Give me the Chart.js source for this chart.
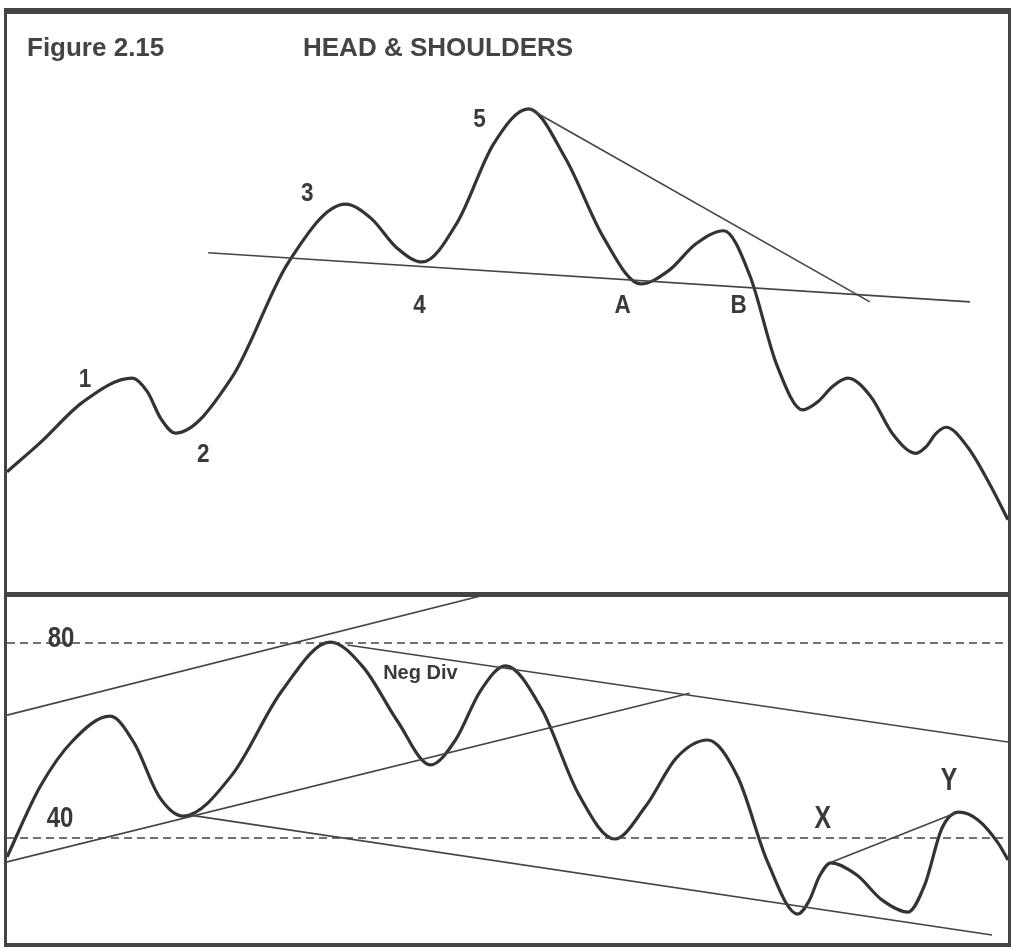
<!DOCTYPE html>
<html lang="en">
<head>
  <meta charset="UTF-8">
  <title>Figure 2.15 Head &amp; Shoulders</title>
  <script src="https://cdn.jsdelivr.net/npm/chart.js"></script>
  <style>
    body { margin: 0; background: #fff; width: 1011px; height: 947px; position: relative; overflow: hidden; }
    #frame { position: absolute; left: 4px; top: 8px; width: 1001px; height: 929px;
             border-left: 3px solid #444; border-right: 3px solid #444;
             border-top: 6px solid #444; border-bottom: 4px solid #444; }
    #divider { position: absolute; left: 4px; top: 592px; width: 1007px; height: 5px; background: #444; }
    .title { position: absolute; top: 34px; font: bold 26px "Liberation Sans", Arial, sans-serif;
             line-height: 26px; color: #444; white-space: nowrap; }
    canvas { position: absolute; left: 7px; }
    #priceChart { top: 14px; }
    #oscChart { top: 597px; }
  </style>
</head>
<body>
  <div id="frame"></div>
  <canvas id="priceChart" width="1001" height="578"></canvas>
  <canvas id="oscChart" width="1001" height="346"></canvas>
  <div id="divider"></div>
  <div class="title" style="left:27px">Figure 2.15</div>
  <div class="title" style="left:303px">HEAD &amp; SHOULDERS</div>

  <script>
    // price panel (x = time 0..100, y = price 0..100)
    const priceX = [0, 3.3, 7.6, 12.5, 14.0, 15.4, 16.8, 22.5, 28.1, 33.8, 36.4, 38.9, 41.5,
      45.0, 48.6, 52.1, 55.8, 59.6, 63.3, 66.1, 68.8, 71.6, 74.2, 76.9, 79.5, 81.0, 82.5,
      84.0, 86.3, 88.5, 90.8, 91.8, 92.8, 93.8, 96.0, 98.1, 100];
    const priceY = [20.8, 25.8, 32.9, 37.0, 34.7, 29.9, 27.5, 37.2, 57.0, 67.1, 64.6, 59.6, 57.1,
      64.0, 77.5, 83.6, 75.0, 61.3, 53.3, 55.6, 60.2, 62.5, 54.8, 39.3, 31.5, 32.9, 35.6,
      37.0, 33.8, 27.3, 24.0, 25.1, 27.4, 28.5, 25.0, 18.9, 12.5];

    const necklineX = [20.1, 96.2];
    const necklineY = [58.7, 50.2];
    const headTrendX = [52.1, 86.2];
    const headTrendY = [83.7, 50.2];

    const priceLabels = ['1', '2', '3', '4', '5', 'A', 'B'];
    const priceLabelX = [7.8, 19.6, 30.0, 41.2, 47.2, 61.5, 73.1];
    const priceLabelY = [37.0, 24.0, 69.2, 49.8, 82.0, 49.8, 49.8];

    // oscillator panel
    const oscX = [0, 3.3, 6.5, 10.3, 12.7, 15.2, 17.6, 22.5, 27.4, 32.3, 35.6, 39.0, 42.3,
      44.8, 47.3, 49.8, 53.4, 57.1, 60.7, 63.8, 66.9, 70.0, 73.0, 76.0, 79.0, 80.1, 81.2,
      82.3, 84.9, 87.4, 90.0, 91.7, 93.4, 95.1, 97.0, 99.0, 100];
    const oscY = [36.1, 50.5, 59.8, 65.0, 59.5, 48.5, 44.5, 53.0, 70.0, 80.2, 75.0, 64.0, 55.0,
      60.1, 70.2, 75.3, 66.5, 49.0, 39.8, 46.5, 56.5, 60.1, 52.5, 35.0, 24.4, 27.0, 32.3,
      34.9, 32.4, 27.3, 24.8, 30.5, 42.0, 45.3, 43.7, 39.0, 35.5];

    const levels = [80, 40];
    const upperRiseX = [0, 47.6];
    const upperRiseY = [65.2, 89.8];
    const lowerRiseX = [0, 68.2];
    const lowerRiseY = [35.1, 69.7];
    const negDivX = [34.0, 100];
    const negDivY = [79.6, 59.7];
    const lowerFallX = [18.3, 98.4];
    const lowerFallY = [44.7, 20.1];
    const xyLineX = [82.4, 94.7];
    const xyLineY = [35.1, 45.1];

    const oscLabels = ['80', '40', 'Neg Div', 'X', 'Y'];
    const oscLabelX = [5.4, 5.3, 41.3, 81.5, 94.1];
    const oscLabelY = [81.3, 44.5, 74.1, 44.3, 52.1];

    const pts = (xs, ys) => xs.map((x, i) => ({ x: x, y: ys[i] }));

    const curve = (xs, ys) => ({
      data: pts(xs, ys), borderColor: '#333', borderWidth: 3.2, pointRadius: 0,
      cubicInterpolationMode: 'monotone', fill: false
    });
    const straight = (xs, ys, dash) => ({
      data: pts(xs, ys), borderColor: '#444', borderWidth: 1.6, pointRadius: 0,
      tension: 0, fill: false, borderDash: dash || []
    });

    // draws text labels at data coordinates
    const labelPlugin = {
      id: 'labels',
      afterDatasetsDraw(chart, args, opts) {
        const ctx = chart.ctx;
        ctx.save();
        ctx.fillStyle = '#3a3a3a';
        ctx.textAlign = 'center';
        ctx.textBaseline = 'alphabetic';
        opts.items.forEach(it => {
          const px = chart.scales.x.getPixelForValue(it.x);
          const py = chart.scales.y.getPixelForValue(it.y);
          ctx.save();
          ctx.translate(px, py + it.size * 0.358);
          ctx.scale(it.sx, 1);
          ctx.font = 'bold ' + it.size + 'px "Liberation Sans", Arial, sans-serif';
          ctx.fillText(it.text, 0, 0);
          ctx.restore();
        });
        ctx.restore();
      }
    };

    const baseOptions = (ymin, ymax, items) => ({
      responsive: false,
      animation: false,
      events: [],
      layout: { padding: 0 },
      scales: {
        x: { type: 'linear', min: 0, max: 100, display: false },
        y: { type: 'linear', min: ymin, max: ymax, display: false }
      },
      plugins: { legend: { display: false }, tooltip: { enabled: false }, labels: { items: items } }
    });

    const priceItems = priceLabels.map((t, i) => ({
      text: t, x: priceLabelX[i], y: priceLabelY[i], size: 25, sx: 0.9
    }));

    new Chart(document.getElementById('priceChart'), {
      type: 'line',
      data: {
        datasets: [
          straight(necklineX, necklineY),
          straight(headTrendX, headTrendY),
          curve(priceX, priceY)
        ]
      },
      options: baseOptions(0, 100, priceItems),
      plugins: [labelPlugin]
    });

    const oscSizes = [30, 30, 20, 31, 31];
    const oscScale = [0.8, 0.8, 1, 0.8, 0.8];
    const oscItems = oscLabels.map((t, i) => ({
      text: t, x: oscLabelX[i], y: oscLabelY[i], size: oscSizes[i], sx: oscScale[i]
    }));

    new Chart(document.getElementById('oscChart'), {
      type: 'line',
      data: {
        datasets: [
          ...levels.map(v => straight([0, 100], [v, v], [8, 5])),
          straight(upperRiseX, upperRiseY),
          straight(lowerRiseX, lowerRiseY),
          straight(negDivX, negDivY),
          straight(lowerFallX, lowerFallY),
          straight(xyLineX, xyLineY),
          curve(oscX, oscY)
        ]
      },
      options: baseOptions(18.46, 89.44, oscItems),
      plugins: [labelPlugin]
    });
  </script>
</body>
</html>
